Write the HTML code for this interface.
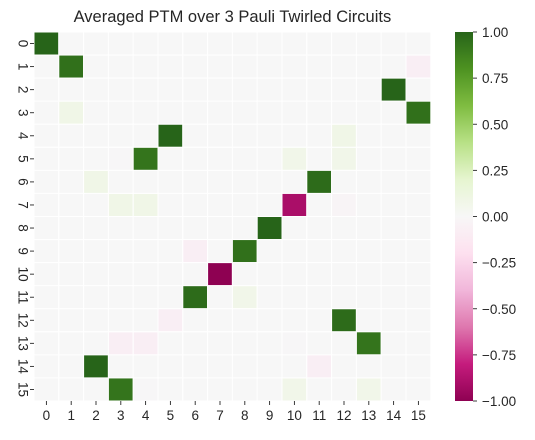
<!DOCTYPE html>
<html><head><meta charset="utf-8"><style>
body{margin:0;background:#fff;}
svg text{font-family:"Liberation Sans",sans-serif;fill:#262626;}
</style></head><body>
<svg id="c" width="535" height="435">
<defs><linearGradient id="cg" x1="0" y1="1" x2="0" y2="0"></linearGradient></defs>
</svg>
<script>
const rowLabels=["0","1","2","3","4","5","6","7","8","9","10","11","12","13","14","15"];
const colLabels=["0","1","2","3","4","5","6","7","8","9","10","11","12","13","14","15"];
const cellRows=[0,1,1,2,3,3,4,4,5,5,5,5,6,6,7,7,7,7,8,9,9,10,11,11,12,12,13,13,13,13,14,14,15,15,15,15];
const cellCols=[0,1,15,14,1,15,5,12,4,3,10,12,2,11,3,4,10,12,9,6,8,7,6,8,5,12,3,4,10,13,2,11,3,4,10,13];
const cellVals=[1,0.95,-0.08,1,0.08,0.95,1,0.08,0.93,-0.01,0.07,0.07,0.08,0.97,0.08,0.08,-0.9,-0.03,1,-0.08,0.95,-1,0.97,0.07,-0.08,0.97,-0.08,-0.08,-0.01,0.93,1,-0.08,0.93,-0.01,0.07,0.07];
const cbTicks=[1,0.75,0.5,0.25,0,-0.25,-0.5,-0.75,-1];
const cbTickLabels=["1.00","0.75","0.50","0.25","0.00","\u22120.25","\u22120.50","\u22120.75","\u22121.00"];
const stops=["#8e0152","#c51b7d","#de77ae","#f1b6da","#fde0ef","#f7f7f7","#e6f5d0","#b8e186","#7fbc41","#4d9221","#276419"];
function hex(h){return [1,3,5].map(i=>parseInt(h.substr(i,2),16));}
function cmap(v){let t=(Math.max(-1,Math.min(1,v))+1)/2*10;let i=Math.min(9,Math.floor(t));let f=t-i;let a=hex(stops[i]),b=hex(stops[i+1]);return "rgb("+a.map((x,k)=>Math.round(x+(b[k]-x)*f)).join(",")+")";}
const X0=34,Y0=32,CW=24.8,CH=23.0625;
const xs=c=>X0+c*CW, ys=r=>Y0+r*CH;
const svg=document.getElementById('c'),NS="http://www.w3.org/2000/svg";
function el(t,a,p){const e=document.createElementNS(NS,t);for(const k in a)e.setAttribute(k,a[k]);(p||svg).appendChild(e);return e;}
const grid={};cellRows.forEach((r,i)=>grid[r+"_"+cellCols[i]]=cellVals[i]);
const gCells=el('g',{});


for(let r=0;r<rowLabels.length;r++)for(let c=0;c<colLabels.length;c++){
 const v=grid[r+"_"+c]||0;
 const e=el('rect',{x:xs(c),y:ys(r),width:CW,height:CH,fill:cmap(v),stroke:"#fff","stroke-width":1},gCells);
 
 
}
rowLabels.forEach((l,r)=>{const y=ys(r)+CH/2;
 el('line',{x1:X0-4,x2:X0,y1:y,y2:y,stroke:"#262626","stroke-width":0.9});
 const t=el('text',{x:0,y:0,"font-size":13.5,"text-anchor":"middle",transform:`translate(${X0-11},${y}) rotate(90)`,"dominant-baseline":"central"});t.textContent=l;
 
 
});
colLabels.forEach((l,c)=>{const x=xs(c)+CW/2;const yb=Y0+16*CH;
 el('line',{x1:x,x2:x,y1:yb,y2:yb+4,stroke:"#262626","stroke-width":0.9});
 const t=el('text',{x:x,y:yb+19,"font-size":13.5,"text-anchor":"middle"});t.textContent=l;
 
 
});
const title=el('text',{x:X0+8*CW,y:22,"font-size":16.5,"text-anchor":"middle"});title.textContent="Averaged PTM over 3 Pauli Twirled Circuits";


const g=svg.querySelector('#cg');
for(let i=0;i<=40;i++){const v=-1+i/20;el('stop',{offset:(i/40),"stop-color":cmap(v)},g);}
const CBX=455,CBW=18,CBT=32,CBB=401;const cby=v=>CBB-(v+1)/2*(CBB-CBT);
const cb=el('rect',{x:CBX,y:CBT,width:CBW,height:CBB-CBT,fill:"url(#cg)"});


cbTicks.forEach((v,i)=>{const y=cby(v);
 el('line',{x1:CBX+CBW,x2:CBX+CBW+4,y1:y,y2:y,stroke:"#262626","stroke-width":0.9});
 const t=el('text',{x:CBX+CBW+9,y:y+5,"font-size":13.5});t.textContent=cbTickLabels[i];
 
 
});
</script>
</body></html>
